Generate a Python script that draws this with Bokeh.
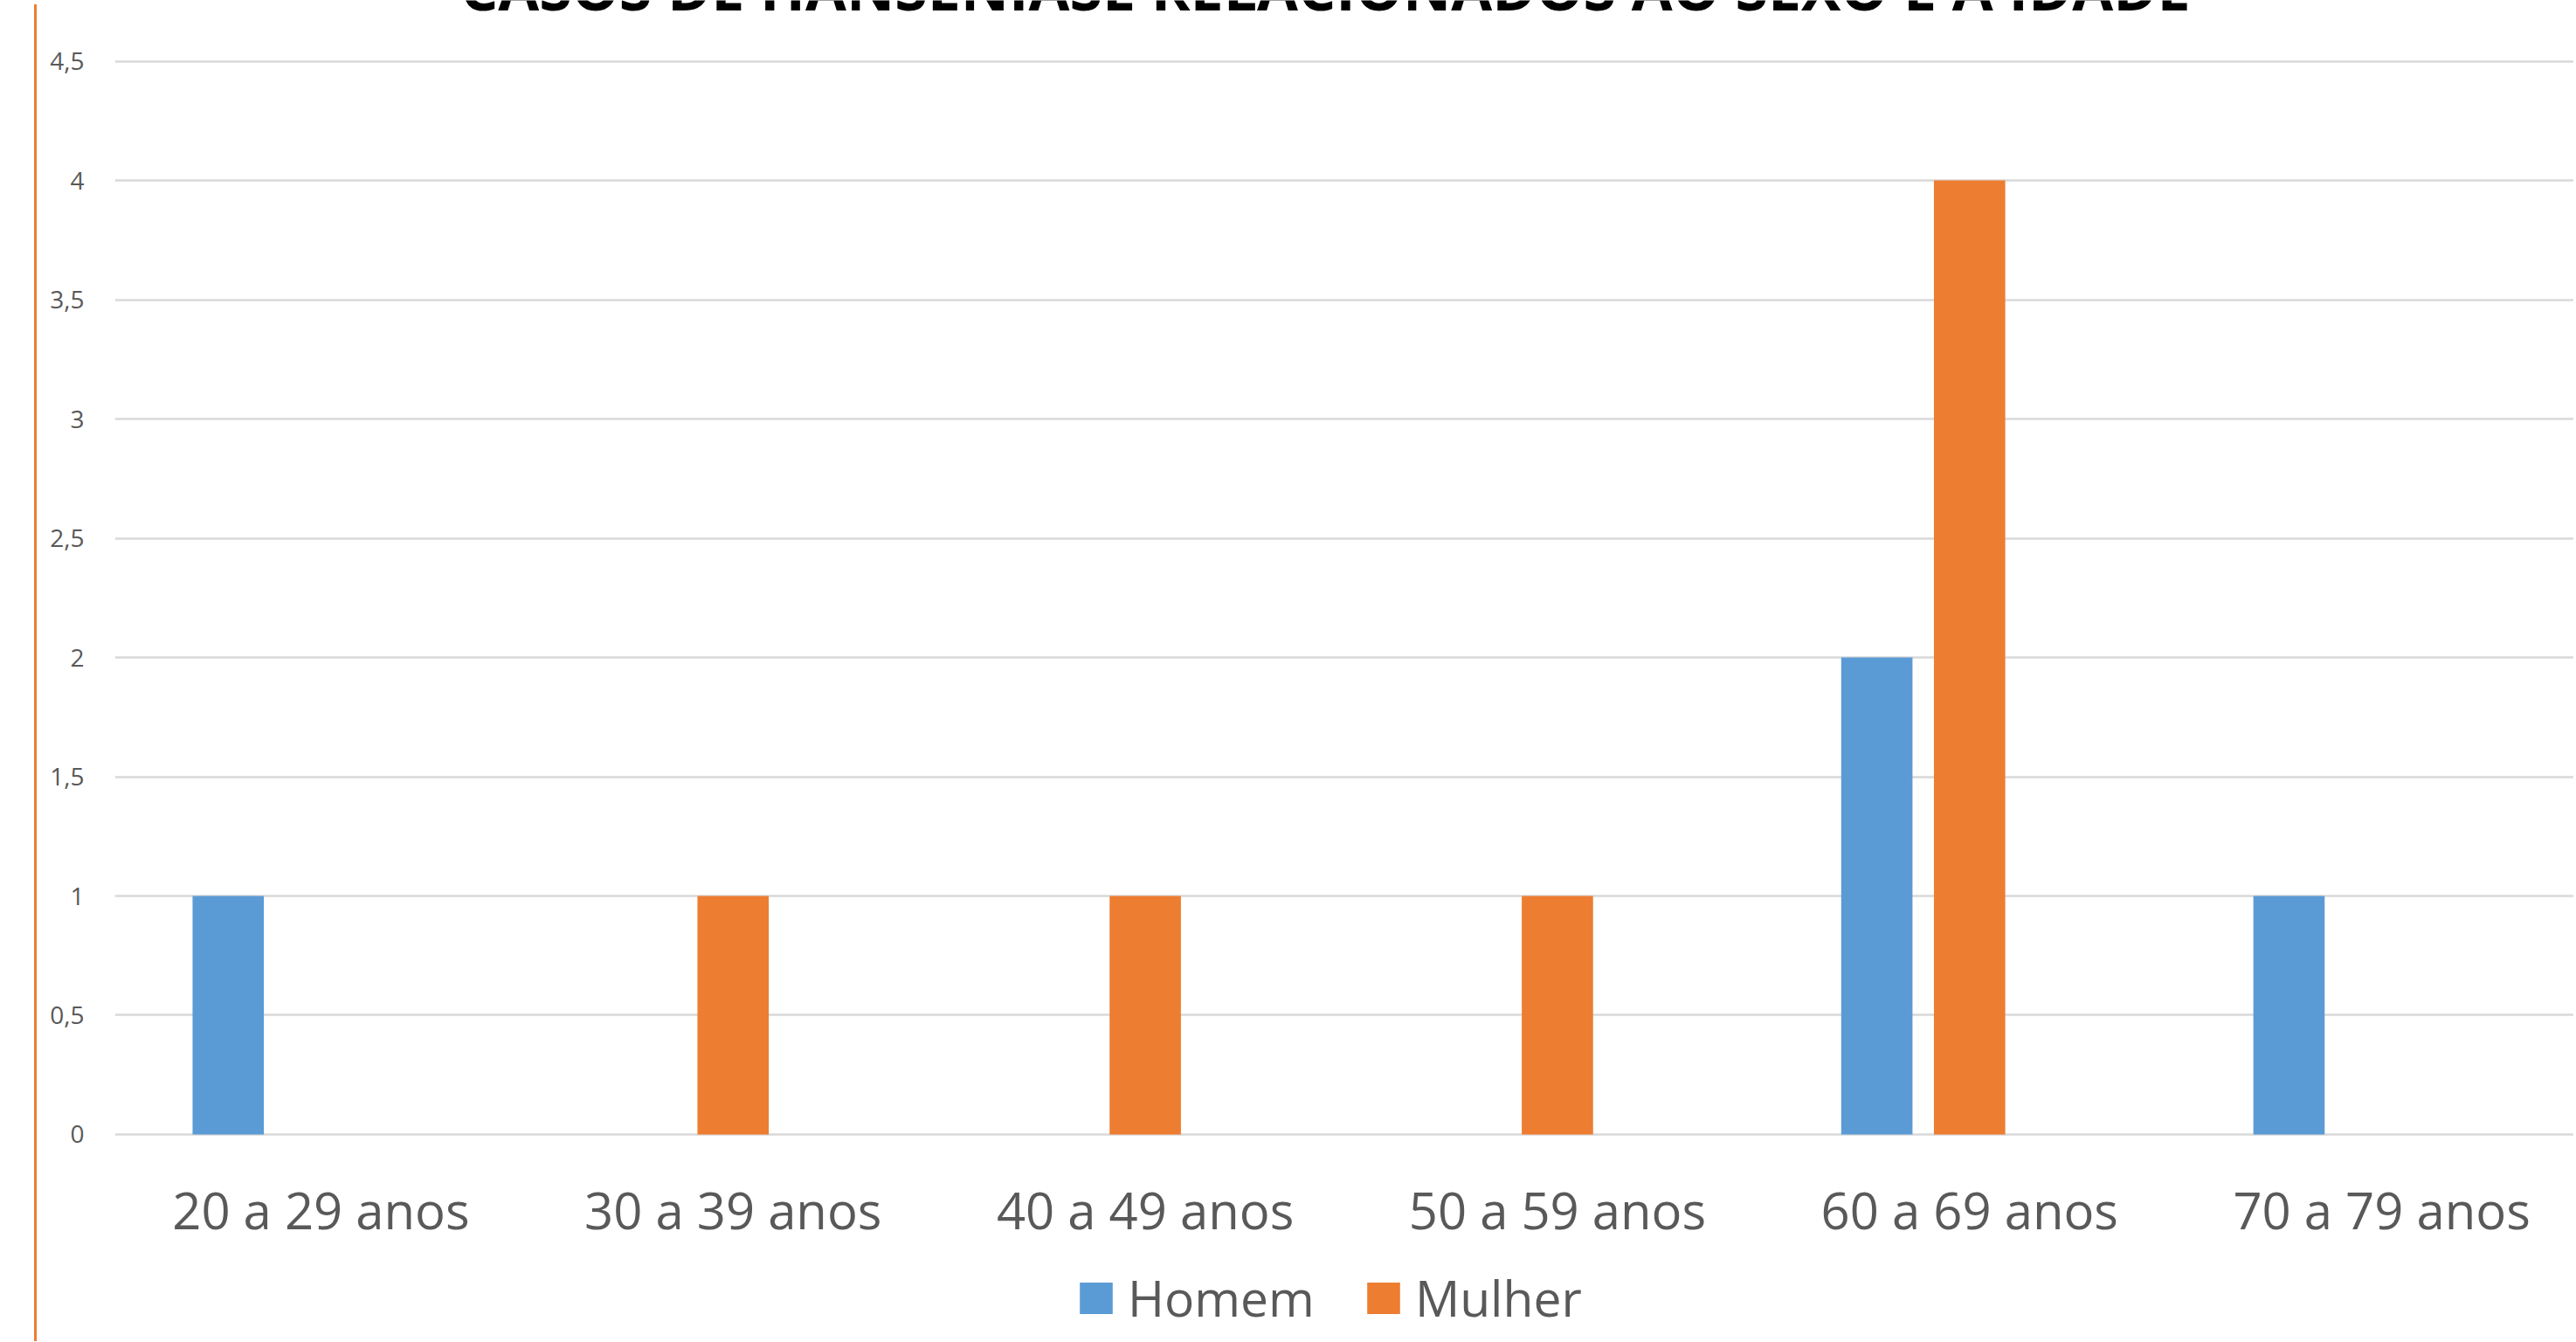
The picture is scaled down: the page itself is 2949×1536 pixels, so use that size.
from bokeh.plotting import figure
from bokeh.models import (ColumnDataSource, FixedTicker, Range1d, Legend,
                          LegendItem, Div, Label)
from bokeh.layouts import row
from bokeh.transform import dodge
from bokeh.core.properties import value
from bokeh.embed import file_html
from bokeh.resources import INLINE

# ---- data ----
title = "CASOS DE HANSENÍASE RELACIONADOS AO SEXO E A IDADE"
categories = ["20 a 29 anos", "30 a 39 anos", "40 a 49 anos",
              "50 a 59 anos", "60 a 69 anos", "70 a 79 anos"]
homem = [1, 0, 0, 0, 2, 1]
mulher = [0, 1, 1, 1, 4, 0]
y_ticks = [0, 0.5, 1, 1.5, 2, 2.5, 3, 3.5, 4, 4.5]
y_tick_labels = ["0", "0,5", "1", "1,5", "2", "2,5", "3", "3,5", "4", "4,5"]

BLUE = "#5B9BD5"
ORANGE = "#ED7D31"
GRAY = "#595959"
GRID = "#D9D9D9"
FONT = "Open Sans"

xpos = [i + 0.5 for i in range(len(categories))]
src = ColumnDataSource(dict(x=xpos, homem=homem, mulher=mulher,
                            label=categories))

p = figure(width=2899, height=1530,
           x_range=Range1d(0, 5.966), y_range=Range1d(-0.85, 4.755),
           output_backend="svg", toolbar_location=None,
           x_axis_location=None,
           min_border_left=84, min_border_right=0,
           min_border_top=0, min_border_bottom=0)
p.outline_line_color = None
p.background_fill_color = "white"
p.border_fill_color = "white"

r_h = p.vbar(x=dodge("x", -0.225), top="homem", width=0.173, source=src,
             fill_color=BLUE, line_color=None)
r_m = p.vbar(x=dodge("x", 0.0), top="mulher", width=0.173, source=src,
             fill_color=ORANGE, line_color=None)

# y axis
p.yaxis.ticker = FixedTicker(ticks=y_ticks)
p.yaxis.major_label_overrides = {float(t): l for t, l in zip(y_ticks, y_tick_labels)}
p.yaxis.axis_line_color = None
p.yaxis.major_tick_line_color = None
p.yaxis.minor_tick_line_color = None
p.yaxis.major_tick_out = 0
p.yaxis.major_label_standoff = 35
p.yaxis.major_label_text_font = FONT
p.yaxis.major_label_text_font_size = "28px"
p.yaxis.major_label_text_color = GRAY

p.xgrid.visible = False
p.ygrid.grid_line_color = GRID
p.ygrid.grid_line_width = 2.5

# category labels under the baseline
p.text(x="x", y=-0.315, text="label", source=src, text_align="center",
       text_baseline="middle", text_font=value(FONT),
       text_font_size="58px", text_color=GRAY)

# title (mostly cut off at the top, as in the reference)
p.add_layout(Label(x=2.937, y=4.81, text=title, text_align="center",
                   text_baseline="alphabetic", text_font=FONT,
                   text_font_style="bold", text_font_size="68px",
                   text_color="black"))

legend = Legend(items=[LegendItem(label="Homem", renderers=[r_h]),
                       LegendItem(label="Mulher", renderers=[r_m])],
                orientation="horizontal", location=(1100, 6),
                glyph_width=47, glyph_height=45, label_standoff=13,
                spacing=55, padding=0, margin=0,
                label_text_font=FONT, label_text_font_size="57px",
                label_text_color=GRAY,
                border_line_color=None, background_fill_alpha=0)
p.add_layout(legend, "center")

edge = Div(text="", width=37, height=1530,
           styles={"border-right": "3px solid " + ORANGE,
                   "box-sizing": "border-box", "background": "white"})

layout = row(edge, p)
open("out.html", "w").write(file_html(layout, INLINE))
